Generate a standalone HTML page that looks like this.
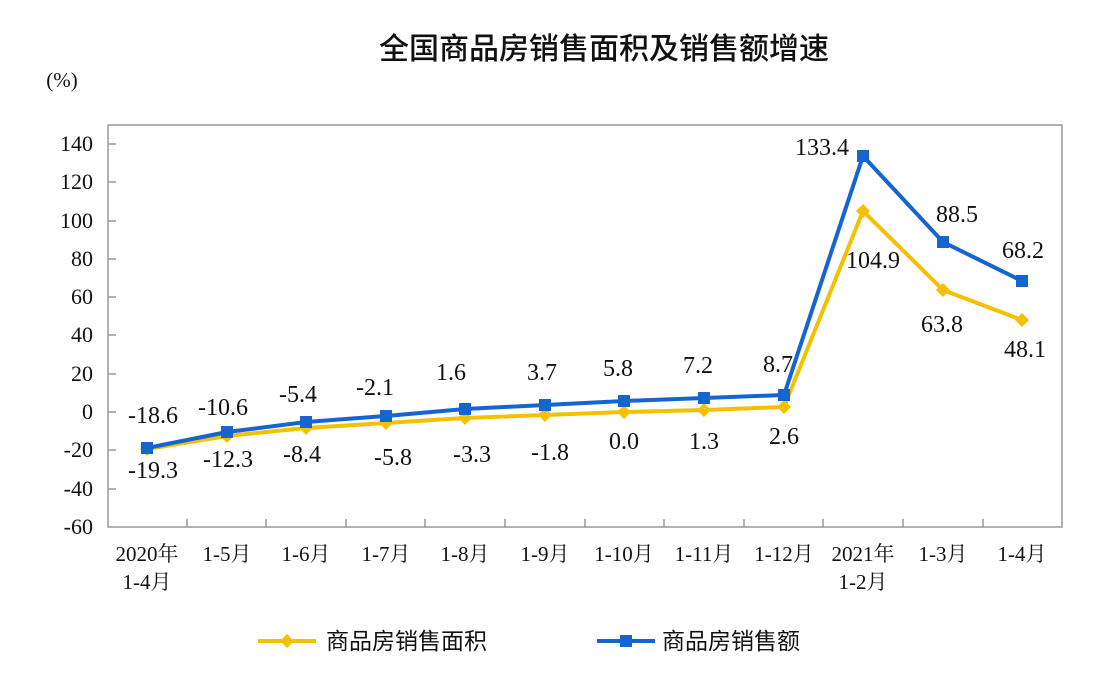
<!DOCTYPE html>
<html><head><meta charset="utf-8"><style>
body{margin:0;background:#fff;}
svg text{font-family:"Liberation Serif","Noto Serif CJK SC",serif;fill:#111;}
</style></head><body>
<svg width="1106" height="674" viewBox="0 0 1106 674" xmlns="http://www.w3.org/2000/svg">
<rect width="1106" height="674" fill="#fff"/>
<text x="604" y="59" text-anchor="middle" font-size="30" style="font-family:'Noto Sans CJK SC',sans-serif;font-weight:500">全国商品房销售面积及销售额增速</text>
<text x="62" y="87" text-anchor="middle" font-size="21">(%)</text>
<rect x="108" y="125" width="954" height="402" fill="none" stroke="#999" stroke-width="1.5"/>
<g stroke="#999" stroke-width="1.5">
<line x1="108" y1="144" x2="116" y2="144"/><line x1="108" y1="182" x2="116" y2="182"/><line x1="108" y1="221" x2="116" y2="221"/><line x1="108" y1="259" x2="116" y2="259"/><line x1="108" y1="297" x2="116" y2="297"/><line x1="108" y1="335" x2="116" y2="335"/><line x1="108" y1="374" x2="116" y2="374"/><line x1="108" y1="412" x2="116" y2="412"/><line x1="108" y1="450" x2="116" y2="450"/><line x1="108" y1="489" x2="116" y2="489"/>
<line x1="187" y1="519" x2="187" y2="527"/><line x1="266" y1="519" x2="266" y2="527"/><line x1="346" y1="519" x2="346" y2="527"/><line x1="425" y1="519" x2="425" y2="527"/><line x1="505" y1="519" x2="505" y2="527"/><line x1="585" y1="519" x2="585" y2="527"/><line x1="664" y1="519" x2="664" y2="527"/><line x1="744" y1="519" x2="744" y2="527"/><line x1="823" y1="519" x2="823" y2="527"/><line x1="903" y1="519" x2="903" y2="527"/><line x1="983" y1="519" x2="983" y2="527"/>
</g>
<g font-size="22" text-anchor="end">
<text x="93" y="151">140</text><text x="93" y="189">120</text><text x="93" y="228">100</text><text x="93" y="266">80</text><text x="93" y="304">60</text><text x="93" y="342">40</text><text x="93" y="381">20</text><text x="93" y="419">0</text><text x="93" y="457">-20</text><text x="93" y="496">-40</text><text x="93" y="534">-60</text>
</g>
<g font-size="21" text-anchor="middle">
<text x="147" y="561">2020年</text><text x="147" y="589">1-4月</text>
<text x="227" y="561">1-5月</text><text x="306" y="561">1-6月</text><text x="386" y="561">1-7月</text><text x="465" y="561">1-8月</text><text x="545" y="561">1-9月</text><text x="624" y="561">1-10月</text><text x="704" y="561">1-11月</text><text x="784" y="561">1-12月</text>
<text x="863" y="561">2021年</text><text x="863" y="589">1-2月</text>
<text x="943" y="561">1-3月</text><text x="1022" y="561">1-4月</text>
</g>
<polyline fill="none" stroke="#f5c000" stroke-width="4" points="147,449 227,436 306,428 386,423 465,418 545,415 624,412 704,410 784,407 863,211 943,290 1022,320"/>
<g fill="#f5c000">
<path d="M147,442l7,7l-7,7l-7,-7z"/><path d="M227,429l7,7l-7,7l-7,-7z"/><path d="M306,421l7,7l-7,7l-7,-7z"/><path d="M386,416l7,7l-7,7l-7,-7z"/><path d="M465,411l7,7l-7,7l-7,-7z"/><path d="M545,408l7,7l-7,7l-7,-7z"/><path d="M624,405l7,7l-7,7l-7,-7z"/><path d="M704,403l7,7l-7,7l-7,-7z"/><path d="M784,400l7,7l-7,7l-7,-7z"/><path d="M863,204l7,7l-7,7l-7,-7z"/><path d="M943,283l7,7l-7,7l-7,-7z"/><path d="M1022,313l7,7l-7,7l-7,-7z"/>
</g>
<polyline fill="none" stroke="#1565d0" stroke-width="4" points="147,448 227,432 306,422 386,416 465,409 545,405 624,401 704,398 784,395 863,156 943,242 1022,281"/>
<g fill="#1565d0">
<rect x="141" y="442" width="12" height="12"/><rect x="221" y="426" width="12" height="12"/><rect x="300" y="416" width="12" height="12"/><rect x="380" y="410" width="12" height="12"/><rect x="459" y="403" width="12" height="12"/><rect x="539" y="399" width="12" height="12"/><rect x="618" y="395" width="12" height="12"/><rect x="698" y="392" width="12" height="12"/><rect x="778" y="389" width="12" height="12"/><rect x="857" y="150" width="12" height="12"/><rect x="937" y="236" width="12" height="12"/><rect x="1016" y="275" width="12" height="12"/>
</g>
<g font-size="24" text-anchor="middle">
<text x="153" y="423">-18.6</text><text x="223" y="415">-10.6</text><text x="298" y="402">-5.4</text><text x="375" y="395">-2.1</text><text x="451" y="380">1.6</text><text x="542" y="380">3.7</text><text x="618" y="376">5.8</text><text x="698" y="373">7.2</text><text x="778" y="372">8.7</text>
<text x="822" y="155">133.4</text><text x="957" y="222">88.5</text><text x="1023" y="258">68.2</text>
<text x="153" y="478">-19.3</text><text x="228" y="467">-12.3</text><text x="302" y="462">-8.4</text><text x="393" y="465">-5.8</text><text x="472" y="462">-3.3</text><text x="550" y="460">-1.8</text><text x="624" y="449">0.0</text><text x="704" y="449">1.3</text><text x="784" y="444">2.6</text>
<text x="873" y="268">104.9</text><text x="942" y="332">63.8</text><text x="1025" y="357">48.1</text>
</g>
<line x1="258" y1="641" x2="316" y2="641" stroke="#f5c000" stroke-width="4"/>
<path d="M287,634l7,7l-7,7l-7,-7z" fill="#f5c000"/>
<text x="326" y="649" font-size="23" style="font-family:'Noto Sans CJK SC',sans-serif">商品房销售面积</text>
<line x1="597" y1="641" x2="655" y2="641" stroke="#1565d0" stroke-width="4"/>
<rect x="620" y="635" width="12" height="12" fill="#1565d0"/>
<text x="662" y="649" font-size="23" style="font-family:'Noto Sans CJK SC',sans-serif">商品房销售额</text>
</svg>
</body></html>
